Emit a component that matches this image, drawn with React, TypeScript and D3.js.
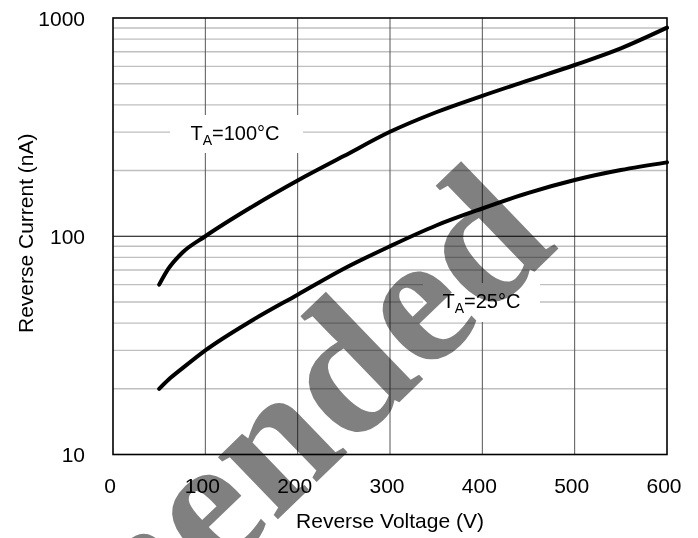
import React from "react";
import * as d3 from "d3";

const voltage = [50, 60, 75, 100, 150, 200, 250, 300, 350, 400, 450, 500, 550, 600];
const current100 = [60, 71, 84, 100, 136, 180, 233, 301, 370, 440, 518, 609, 726, 903];
const current25 = [20, 22, 24.8, 30, 41, 54, 71, 90, 112, 134, 158, 181, 201, 218];
const xTicks = [0, 100, 200, 300, 400, 500, 600];
const yTicks = [10, 100, 1000];
const yMinor = [20, 30, 40, 50, 60, 70, 80, 90, 200, 300, 400, 500, 600, 700, 800, 900];
const xTitle = "Reverse Voltage (V)";
const yTitle = "Reverse Current (nA)";

const W = 698, H = 538;
const L = 113, R = 667, T = 18, B = 454.5;
const FONT = "'Liberation Sans', Arial, Helvetica, sans-serif";

export default function App() {
  const x = d3.scaleLinear().domain([0, 600]).range([L, R]);
  const y = d3.scaleLog().domain([10, 1000]).range([B, T]);
  const line = d3
    .line<number>()
    .x((_, i) => x(voltage[i]))
    .y((d) => y(d))
    .curve(d3.curveMonotoneX);

  return (
    <svg width={W} height={H} style={{ position: "absolute", left: 0, top: 0, background: "#fff" }}>
      <rect x={0} y={0} width={W} height={H} fill="#fff" />
      {yMinor.map((v) => (
        <line key={"h" + v} x1={L} x2={R} y1={y(v)} y2={y(v)} stroke="#bfbfbf" strokeWidth={1.4} />
      ))}
      {xTicks.slice(1, -1).map((v) => (
        <line key={"v" + v} x1={x(v)} x2={x(v)} y1={T} y2={B} stroke="#555" strokeWidth={1} />
      ))}
      <line x1={L} x2={R} y1={y(100)} y2={y(100)} stroke="#000" strokeWidth={1.2} />
      {/* label backgrounds */}
      <rect x={170} y={115} width={133} height={38} fill="#fff" />
      <rect x={423} y={283} width={117} height={39} fill="#fff" />
      <rect x={L} y={T} width={R - L} height={B - T} fill="none" stroke="#000" strokeWidth={1.6} />
      <path d={line(current100) || ""} fill="none" stroke="#000" strokeWidth={4} strokeLinecap="round" />
      <path d={line(current25) || ""} fill="none" stroke="#000" strokeWidth={4} strokeLinecap="round" />

      <g fontFamily={FONT} fill="#000">
        <text x={190.5} y={139.5} fontSize={20}>
          T<tspan fontSize={14} dy={5}>A</tspan>
          <tspan dy={-5}>=100°C</tspan>
        </text>
        <text x={442.5} y={308} fontSize={20}>
          T<tspan fontSize={14} dy={5}>A</tspan>
          <tspan dy={-5}>=25°C</tspan>
        </text>
        {xTicks.map((v) => (
          <text key={"xt" + v} x={x(v) - 3} y={493} fontSize={21} textAnchor="middle">
            {v}
          </text>
        ))}
        {yTicks.map((v) => (
          <text key={"yt" + v} x={85} y={y(v)} fontSize={21} textAnchor="end" dominantBaseline="central">
            {v}
          </text>
        ))}
        <text x={(L + R) / 2} y={528} fontSize={21} textAnchor="middle">
          {xTitle}
        </text>
        <text transform={`translate(33,${(T + B) / 2 - 3}) rotate(-90)`} fontSize={21} textAnchor="middle">
          {yTitle}
        </text>
      </g>

      <text
        transform="translate(560,247) rotate(-44)"
        fontFamily="'Liberation Serif', 'Times New Roman', serif"
        fontWeight="bold"
        fontSize={188}
        textAnchor="end"
        fill="#808080"
        style={{ mixBlendMode: "multiply" }}
      >
        Not Recommended
      </text>
    </svg>
  );
}
